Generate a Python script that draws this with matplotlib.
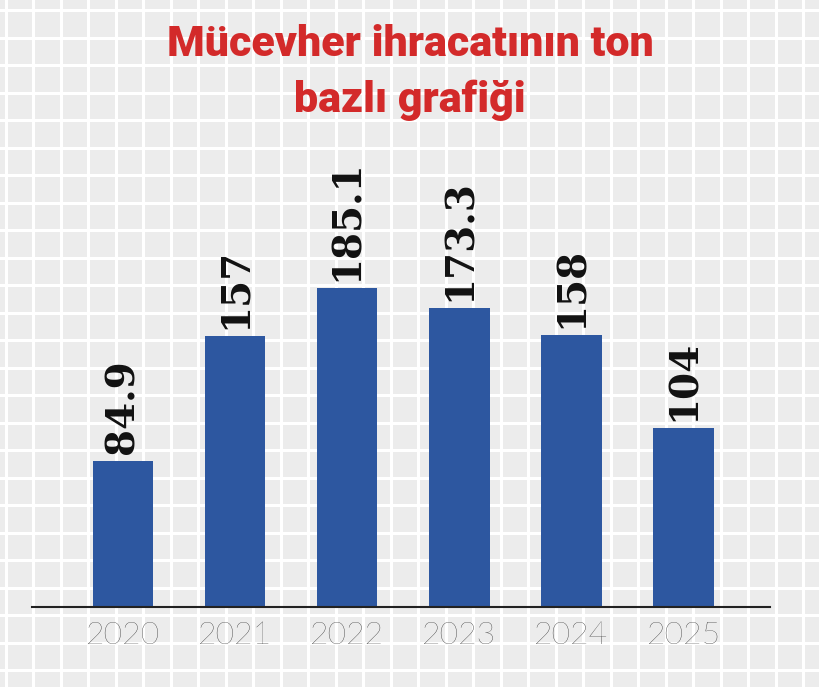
import matplotlib; matplotlib.use("Agg")
import matplotlib.pyplot as plt
import numpy as np

years = ["2020", "2021", "2022", "2023", "2024", "2025"]
values = [84.9, 157, 185.1, 173.3, 158, 104]
labels = ["84.9", "157", "185.1", "173.3", "158", "104"]

W, H = 820, 687
fig = plt.figure(figsize=(W/100, H/100), dpi=100)
fig.patch.set_facecolor("#ececec")

# squared paper background
bg = fig.add_axes([0, 0, 1, 1], zorder=0)
bg.set_xlim(0, W); bg.set_ylim(H, 0); bg.axis("off")
for x in np.arange(6, W, 27.5):
    bg.axvline(x, color="white", lw=2.2)
for y in np.arange(10, H, 27.5):
    bg.axhline(y, color="white", lw=2.2)

ax = fig.add_axes([32/W, 1-607/H, (770-32)/W, (607-150)/H], zorder=1)
ax.patch.set_alpha(0)
x = np.arange(len(years))
ax.bar(x, values, width=0.54, color="#2d57a0", zorder=2)
ax.set_xlim(-0.81, 5.77)
ax.set_ylim(0, 265)
for xi, v, lab in zip(x, values, labels):
    ax.text(xi, v + 4, lab, rotation=90, ha="center", va="bottom",
            fontsize=28, fontweight="bold", family="DejaVu Serif", color="#111111")
for s in ["top", "right", "left"]:
    ax.spines[s].set_visible(False)
ax.spines["bottom"].set_color("#222222")
ax.spines["bottom"].set_linewidth(1.5)
ax.set_yticks([])
ax.set_xticks(x)
ax.set_xticklabels(years, fontsize=23, family="Lato", fontweight="light", color="#222222")
ax.tick_params(axis="x", length=0, pad=10)

fig.text(0.5, 1-45/H, "Mücevher ihracatının ton", ha="center", va="center",
         fontsize=31, fontweight="heavy", family="Roboto", color="#d32a2a")
fig.text(0.5, 1-100/H, "bazlı grafiği", ha="center", va="center",
         fontsize=31, fontweight="heavy", family="Roboto", color="#d32a2a")

fig.savefig("out.png", dpi=100, facecolor=fig.get_facecolor())
